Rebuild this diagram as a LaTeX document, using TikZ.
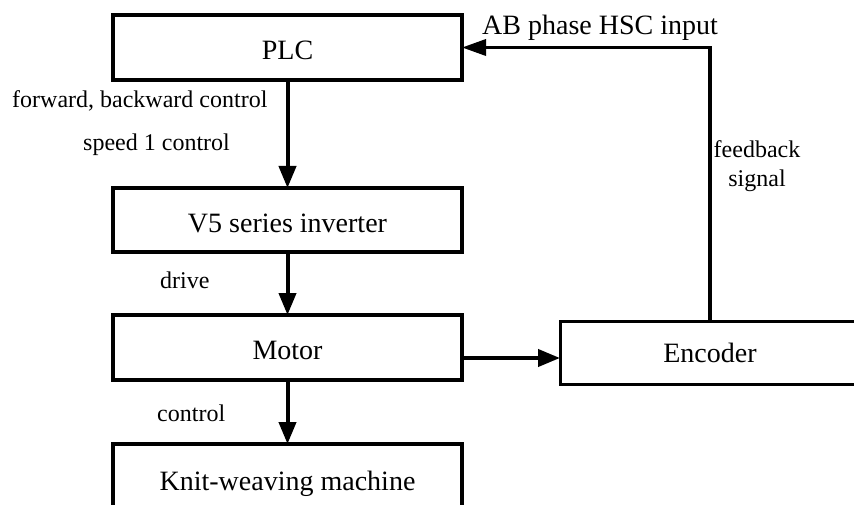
\documentclass[tikz,border=0pt]{standalone}
\usepackage{fontspec}
\setmainfont{Liberation Serif}
\usetikzlibrary{arrows.meta}
\begin{document}
\begin{tikzpicture}[x=1pt,y=-1pt,
  box/.style={draw, line width=4pt, minimum width=349pt, inner sep=0pt, outer sep=0pt, text height=24.5pt, text depth=0pt, font=\fontsize{28}{32}\selectfont},
  encbox/.style={draw, line width=3pt, minimum width=300pt, minimum height=63pt, inner sep=0pt, outer sep=0pt, text height=20pt, text depth=0pt, font=\fontsize{28}{32}\selectfont},
  lab/.style={inner sep=0pt, font=\fontsize{24}{28}\selectfont},
  toplab/.style={inner sep=0pt, font=\fontsize{28}{32}\selectfont},
  flow/.style={line width=4pt, -{Triangle[length=22pt,width=17pt]}},
  fb/.style={line width=3.5pt, -{Triangle[length=24pt,width=16pt]}}]
\useasboundingbox (0,0) rectangle (854,505);
\clip (0,0) rectangle (854,505);
\node[box, minimum height=65pt] (plc) at (287.5,47.5) {PLC};
\node[box, minimum height=64pt] (v5) at (287.5,220) {V5 series inverter};
\node[box, minimum height=65pt] (motor) at (287.5,347.5) {Motor};
\node[box, minimum height=68pt] (knit) at (287.5,478) {Knit-weaving machine};
\node[encbox] (enc) at (710,352.5) {Encoder};
\draw[flow] (plc) -- (v5);
\draw[flow] (v5) -- (motor);
\draw[flow] (motor) -- (knit);
\draw[flow] ([yshift=-10.5pt]motor.east) -- ([yshift=-10.5pt]motor.east -| enc.west);
\draw[fb] (enc.north) |- (plc.east);
\node[lab, anchor=base west] (l1) at (12,108) {forward, backward control};
\node[lab, anchor=base west] (l2) at (83,151) {speed 1 control};
\node[lab, anchor=base west] (l3) at (160,288) {drive};
\node[lab, anchor=base west] (l4) at (157,421) {control};
\node[toplab, anchor=base west] (l5) at (482,35) {AB phase HSC input};
\node[lab, anchor=base] (l6) at (757,158) {feedback};
\node[lab, anchor=base] (l7) at (757,187) {signal};
\end{tikzpicture}
\end{document}
